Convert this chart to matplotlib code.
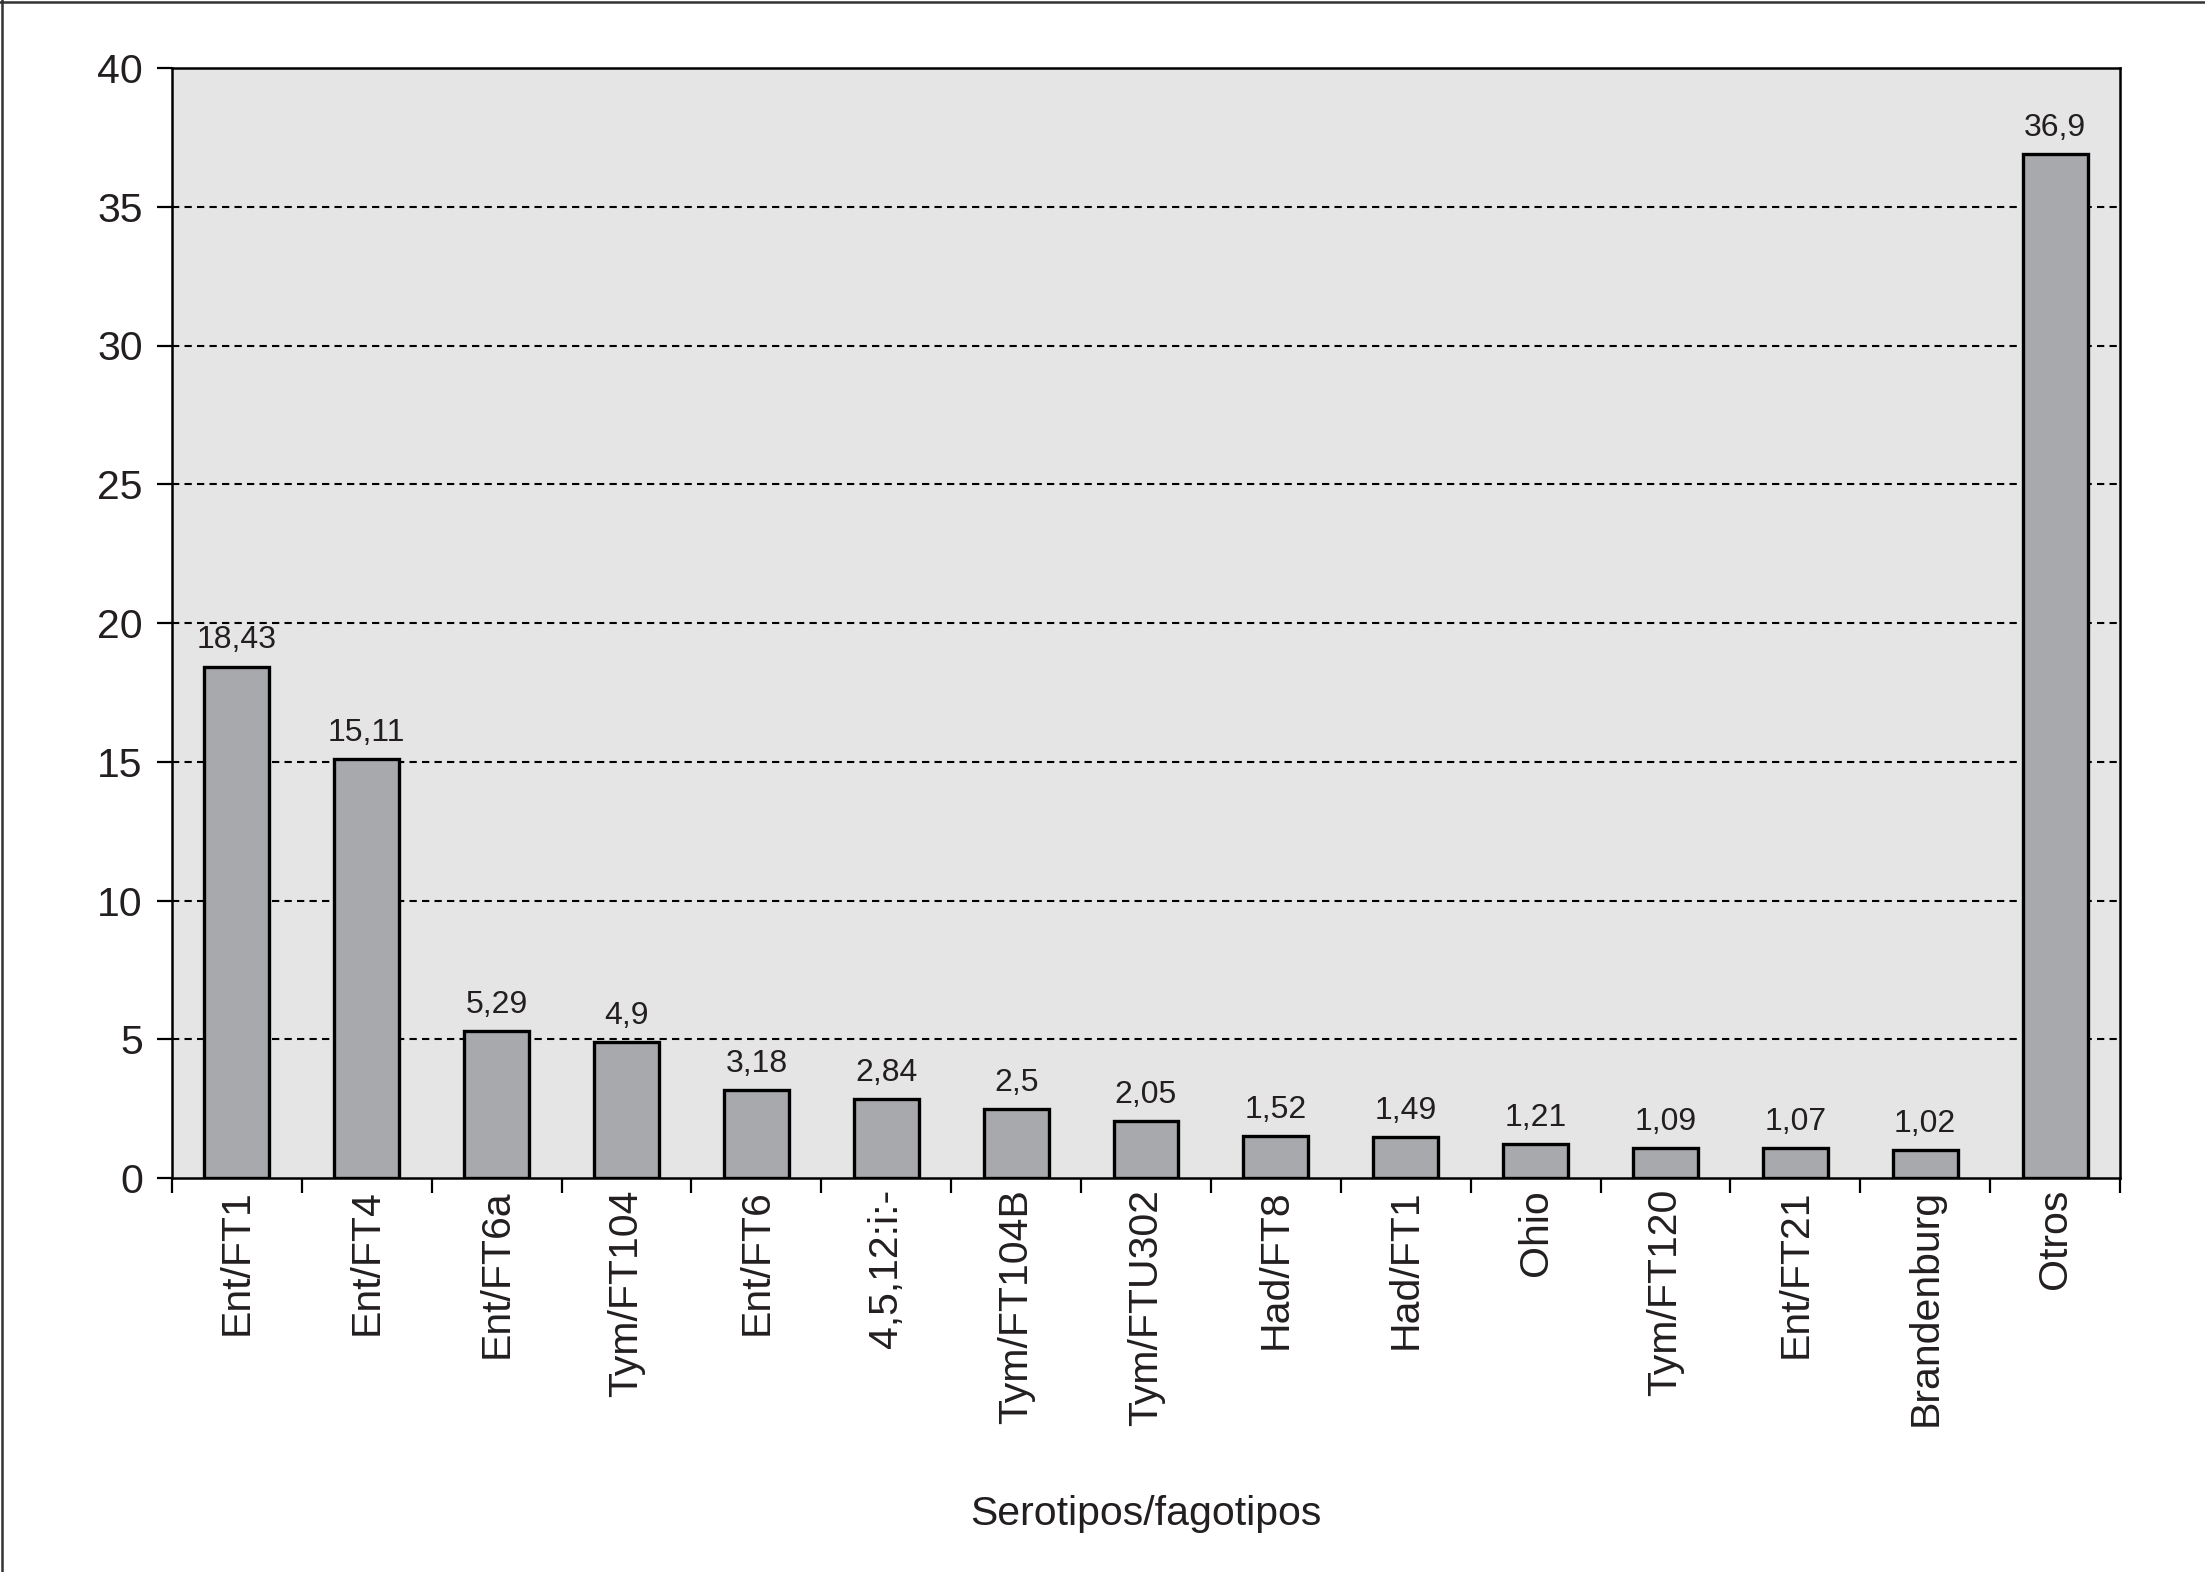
import matplotlib
matplotlib.use("Agg")
import matplotlib.pyplot as plt
from matplotlib.lines import Line2D

categories = ["Ent/FT1", "Ent/FT4", "Ent/FT6a", "Tym/FT104", "Ent/FT6", "4,5,12:i:-",
              "Tym/FT104B", "Tym/FTU302", "Had/FT8", "Had/FT1", "Ohio", "Tym/FT120",
              "Ent/FT21", "Brandenburg", "Otros"]
values = [18.43, 15.11, 5.29, 4.9, 3.18, 2.84, 2.5, 2.05, 1.52, 1.49, 1.21, 1.09, 1.07, 1.02, 36.9]
value_labels = ["18,43", "15,11", "5,29", "4,9", "3,18", "2,84", "2,5", "2,05", "1,52", "1,49",
                "1,21", "1,09", "1,07", "1,02", "36,9"]
yticks = [0, 5, 10, 15, 20, 25, 30, 35, 40]
xlabel = "Serotipos/fagotipos"

plt.rcParams['font.family'] = ['Liberation Sans', 'DejaVu Sans']
txt = '#231f20'

fig = plt.figure(figsize=(22.05, 15.72), dpi=100)
ax = fig.add_axes([172/2205, 1 - 1178/1572, (2120-172)/2205, (1178-68)/1572])
ax.set_facecolor('#e5e5e5')

x = list(range(len(categories)))
ax.bar(x, values, width=0.5, color='#a8a9ac', edgecolor='black', linewidth=2.4, zorder=3)

for xi, v, lab in zip(x, values, value_labels):
    ax.annotate(lab, (xi, v), xytext=(0, 8), textcoords='offset points',
                ha='center', va='bottom', fontsize=23, color=txt, zorder=4)

ax.set_xlim(-0.5, len(categories) - 0.5)
ax.set_ylim(0, 40)
ax.set_yticks(yticks)
ax.set_yticklabels([str(t) for t in yticks])
for t in yticks[1:-1]:
    ax.axhline(t, color='black', linestyle=(0, (3.5, 2.5)), linewidth=1.5, zorder=1)

ax.set_xticks([i - 0.5 for i in range(len(categories) + 1)], minor=False)
ax.set_xticklabels([])
ax.set_xticks(x, minor=True)
ax.set_xticklabels(categories, minor=True, rotation=90, fontsize=29.5, color=txt)
ax.tick_params(axis='x', which='minor', length=0, pad=8)
ax.tick_params(axis='x', which='major', direction='out', length=11, width=1.6, color='black')
ax.tick_params(axis='y', direction='out', length=11, width=1.6, pad=10, labelsize=29.5, labelcolor=txt)

for s in ax.spines.values():
    s.set_linewidth(1.8)
    s.set_color('black')

fig.text(1146/2205, 1 - 1514/1572, xlabel, ha='center', va='center', fontsize=29.5, color=txt)

fig.add_artist(Line2D([2/2205, 2/2205], [0, 1], transform=fig.transFigure, color='#333333', linewidth=1.8))
fig.add_artist(Line2D([0, 1], [1 - 1.5/1572, 1 - 1.5/1572], transform=fig.transFigure, color='#333333', linewidth=1.8))

fig.savefig("out.png", dpi=100)
